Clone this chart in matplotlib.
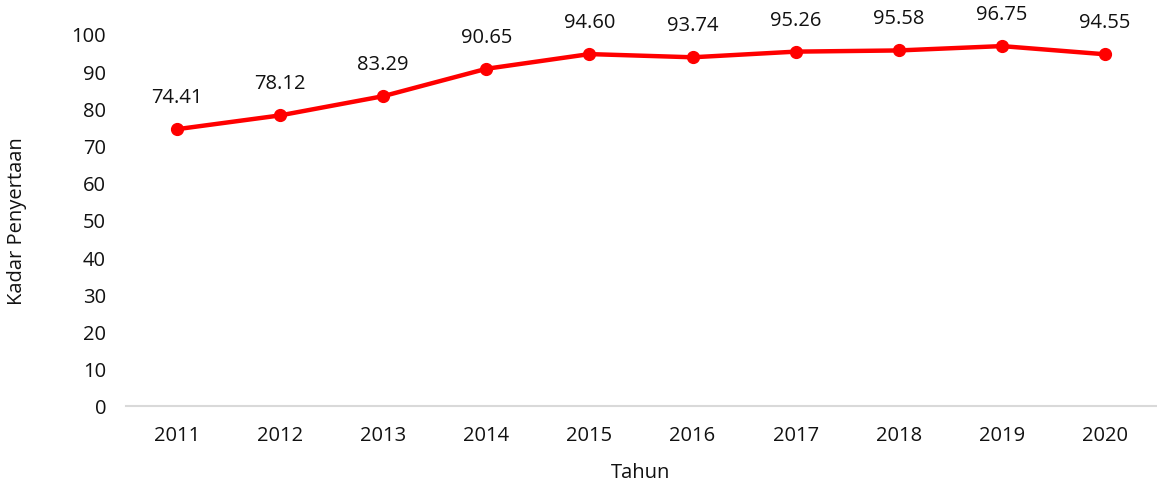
import matplotlib.pyplot as plt

plt.rcParams['font.family'] = ['Open Sans', 'DejaVu Sans']

years = ["2011", "2012", "2013", "2014", "2015", "2016", "2017", "2018", "2019", "2020"]
kadar = [74.41, 78.12, 83.29, 90.65, 94.60, 93.74, 95.26, 95.58, 96.75, 94.55]

fig = plt.figure(figsize=(11.57, 4.85), dpi=100)
ax = fig.add_axes([125.5 / 1157, 1 - 407 / 485, 1031 / 1157, 372 / 485])

x = list(range(len(years)))
ax.plot(x, kadar, color="#ff0000", linewidth=3.2, marker="o", markersize=8.5, clip_on=False)

for xi, v in zip(x, kadar):
    ax.annotate(f"{v:.2f}", (xi, v), xytext=(0, 23), textcoords="offset points",
                ha="center", va="center", fontsize=14.5, color="#111111", annotation_clip=False)

ax.set_xlim(-0.5, len(years) - 0.5)
ax.set_ylim(0, 100)
ax.set_xticks(x)
ax.set_xticklabels(years)
ax.set_yticks(range(0, 101, 10))

for s in ["top", "right", "left"]:
    ax.spines[s].set_visible(False)
ax.spines["bottom"].set_color("#d9d9d9")
ax.spines["bottom"].set_linewidth(1.5)

ax.tick_params(axis="both", length=0, labelsize=14.5, colors="#111111")
ax.tick_params(axis="x", pad=14)
ax.tick_params(axis="y", pad=14)

ax.set_xlabel("Tahun", fontsize=14.5, color="#111111", labelpad=12)
ax.set_ylabel("Kadar Penyertaan", fontsize=14.5, color="#111111", labelpad=32)

fig.savefig("out.png", dpi=100)
